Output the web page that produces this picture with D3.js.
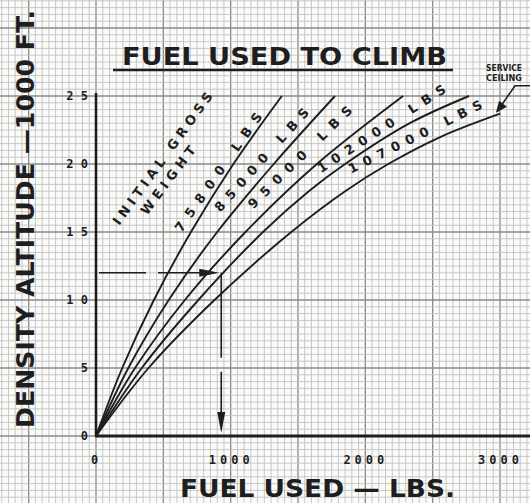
<!DOCTYPE html>
<html>
<head>
<meta charset="utf-8">
<script src="https://cdn.jsdelivr.net/npm/d3@7"></script>
<style>
  html, body { margin: 0; padding: 0; background: #fbfbfa; }
  svg { display: block; }
  text { font-family: "DejaVu Sans", sans-serif; font-weight: bold; fill: #1e1e1e; }
</style>
</head>
<body>
<svg id="chart" width="530" height="503"></svg>
<script>
// Fuel used to climb, by initial gross weight (fuel in lbs, density altitude in 1000 ft)
const weightLabels = ["75800 LBS", "85000 LBS", "95000 LBS", "102000 LBS", "107000 LBS"];
const alt75800  = [0, 5, 10, 15, 20, 25];
const fuel75800 = [0, 195, 430, 705, 1020, 1380];
const alt85000  = [0, 5, 10, 15, 20, 25];
const fuel85000 = [0, 240, 540, 900, 1320, 1775];
const alt95000  = [0, 5, 10, 15, 20, 25];
const fuel95000 = [0, 290, 660, 1110, 1640, 2280];
const alt102000  = [0, 5, 10, 15, 18, 20, 23, 25];
const fuel102000 = [0, 340, 760, 1240, 1580, 1850, 2330, 2770];
const alt107000  = [0, 5, 10, 15, 18, 20, 22, 23.7];
const fuel107000 = [0, 390, 880, 1450, 1850, 2170, 2560, 3000];

const xTicks = [0, 1000, 2000, 3000];
const yTicks = [0, 5, 10, 15, 20, 25];

// worked example: 12,000 ft read across to the curve, then down to fuel used
const exampleAlt = 12;
const exampleFuel = 930;

const series = [
  { label: weightLabels[0], alt: alt75800,  fuel: fuel75800 },
  { label: weightLabels[1], alt: alt85000,  fuel: fuel85000 },
  { label: weightLabels[2], alt: alt95000,  fuel: fuel95000 },
  { label: weightLabels[3], alt: alt102000, fuel: fuel102000 },
  { label: weightLabels[4], alt: alt107000, fuel: fuel107000 }
];

const W = 530, H = 503;
const svg = d3.select("#chart");

const x = d3.scaleLinear().domain([0, 3000]).range([96, 500]);
const y = d3.scaleLinear().domain([0, 25]).range([436, 96]);

// graph paper: fine rules every 50 lbs / 500 ft, heavy rules every 500 lbs / 5000 ft
const grid = svg.append("g");
const fMin = Math.ceil(x.invert(0) / 50) * 50, fMax = x.invert(W);
for (let f = fMin; f <= fMax; f += 50) {
  const major = Math.round(f) % 500 === 0;
  grid.append("line")
    .attr("x1", x(f)).attr("x2", x(f)).attr("y1", 0).attr("y2", H)
    .attr("stroke", major ? "#8a8a8a" : "#c2c2c2")
    .attr("stroke-width", major ? 1.3 : 0.9);
}
const aMin = Math.ceil(y.invert(H) * 2) / 2, aMax = y.invert(0);
for (let a = aMin; a <= aMax; a += 0.5) {
  const major = Math.round(a * 10) % 50 === 0;
  grid.append("line")
    .attr("y1", y(a)).attr("y2", y(a)).attr("x1", 0).attr("x2", W)
    .attr("stroke", major ? "#8a8a8a" : "#c2c2c2")
    .attr("stroke-width", major ? 1.3 : 0.9);
}

// axes
const ink = "#1e1e1e";
svg.append("line").attr("x1", x(0)).attr("x2", x(0)).attr("y1", y(0)).attr("y2", y(25) - 3)
  .attr("stroke", ink).attr("stroke-width", 2.6);
svg.append("line").attr("x1", x(0) - 1).attr("x2", W).attr("y1", y(0)).attr("y2", y(0))
  .attr("stroke", ink).attr("stroke-width", 3);

const yAxis = d3.axisLeft(y).tickValues(yTicks).tickSize(0).tickPadding(8)
  .tickFormat(d => String(d).split("").join(" "));
svg.append("g").attr("transform", `translate(${x(0)},0)`).call(yAxis)
  .call(g => g.select(".domain").remove())
  .selectAll("text")
  .style("font-family", "'DejaVu Sans Mono', monospace")
  .style("font-weight", "bold").style("font-size", "12px").attr("fill", ink);

const xAxis = d3.axisBottom(x).tickValues(xTicks).tickSize(0).tickPadding(19)
  .tickFormat(d => String(d));
svg.append("g").attr("transform", `translate(0,${y(0)})`).call(xAxis)
  .call(g => g.select(".domain").remove())
  .selectAll("text")
  .style("font-family", "'DejaVu Sans Mono', monospace")
  .style("font-weight", "bold").style("font-size", "12px")
  .style("letter-spacing", "4px").attr("fill", ink);

// climb curves
const line = d3.line().x(d => x(d[0])).y(d => y(d[1])).curve(d3.curveCatmullRom.alpha(0.5));
series.forEach(s => {
  const pts = s.fuel.map((f, i) => [f, s.alt[i]]);
  svg.append("path").attr("d", line(pts))
    .attr("fill", "none").attr("stroke", ink).attr("stroke-width", 1.9);
});

// curve labels (centre in data units, angle in degrees, drawn length in px)
const labelLayout = [
  { text: "INITIAL GROSS", f: 495, a: 20.4, rot: -54, len: 160 },
  { text: "WEIGHT",        f: 535, a: 18.8, rot: -53, len: 82 },
  { text: weightLabels[0], f: 910, a: 19.4, rot: -55, len: 142 },
  { text: weightLabels[1], f: 1230, a: 20.3, rot: -48, len: 134 },
  { text: weightLabels[2], f: 1515, a: 20.5, rot: -44.5, len: 140 },
  { text: weightLabels[3], f: 2120, a: 22.6, rot: -33, len: 150 },
  { text: weightLabels[4], f: 2370, a: 22.0, rot: -26.5, len: 148 }
];
labelLayout.forEach(l => {
  svg.append("text")
    .attr("transform", `translate(${x(l.f)},${y(l.a)}) rotate(${l.rot})`)
    .attr("text-anchor", "middle").attr("dominant-baseline", "central")
    .attr("textLength", l.len).attr("lengthAdjust", "spacing")
    .style("font-size", "13px")
    .text(l.text);
});

// worked example arrows
const ex = svg.append("g").attr("stroke", ink).attr("stroke-width", 1.6).attr("fill", "none");
ex.append("line")
  .attr("x1", x(0) + 3).attr("x2", x(exampleFuel) - 16)
  .attr("y1", y(exampleAlt)).attr("y2", y(exampleAlt))
  .attr("stroke-dasharray", "47,12,60,0");
ex.append("line")
  .attr("x1", x(exampleFuel)).attr("x2", x(exampleFuel))
  .attr("y1", y(exampleAlt)).attr("y2", y(0) - 18)
  .attr("stroke-dasharray", "85,14,200,0");
svg.append("path")
  .attr("d", `M${x(exampleFuel) - 22},${y(exampleAlt) - 4} L${x(exampleFuel) - 2},${y(exampleAlt)} L${x(exampleFuel) - 22},${y(exampleAlt) + 4} Z`)
  .attr("fill", ink);
svg.append("path")
  .attr("d", `M${x(exampleFuel) - 4},${y(0) - 24} L${x(exampleFuel)},${y(0) - 3} L${x(exampleFuel) + 4},${y(0) - 24} Z`)
  .attr("fill", ink);

// service ceiling pointer at the end of the heaviest curve
const endF = fuel107000[fuel107000.length - 1], endA = alt107000[alt107000.length - 1];
svg.append("path")
  .attr("d", `M${W},${y(endA) - 28} L${x(endF) + 15},${y(endA) - 28} L${x(endF) - 3},${y(endA) - 2}`)
  .attr("fill", "none").attr("stroke", ink).attr("stroke-width", 1.6);
svg.append("path")
  .attr("d", `M${x(endF) - 4},${y(endA) - 1} L${x(endF) - 1},${y(endA) - 13} L${x(endF) + 7},${y(endA) - 7} Z`)
  .attr("fill", ink);
svg.append("text").attr("x", 486).attr("y", 71)
  .attr("textLength", 36).attr("lengthAdjust", "spacingAndGlyphs")
  .style("font-size", "9px").text("SERVICE");
svg.append("text").attr("x", 486).attr("y", 81)
  .attr("textLength", 36).attr("lengthAdjust", "spacingAndGlyphs")
  .style("font-size", "9px").text("CEILING");

// titles
svg.append("text").attr("x", 122).attr("y", 65)
  .attr("textLength", 325).attr("lengthAdjust", "spacingAndGlyphs")
  .style("font-size", "24px").text("FUEL USED TO CLIMB");
svg.append("line").attr("x1", 113).attr("x2", 453).attr("y1", 70).attr("y2", 70)
  .attr("stroke", ink).attr("stroke-width", 2.6);

svg.append("text").attr("x", 180).attr("y", 497)
  .attr("textLength", 275).attr("lengthAdjust", "spacingAndGlyphs")
  .style("font-size", "25px").text("FUEL USED — LBS.");

svg.append("text")
  .attr("transform", "translate(34,428) rotate(-90)")
  .attr("textLength", 418).attr("lengthAdjust", "spacingAndGlyphs")
  .style("font-size", "25px").text("DENSITY ALTITUDE —1000 FT.");
</script>
</body>
</html>
